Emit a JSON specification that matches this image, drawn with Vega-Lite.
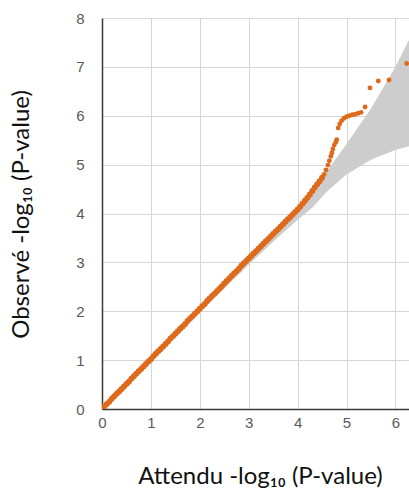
{
  "$schema": "https://vega.github.io/schema/vega-lite/v6.json",
  "autosize": {"type": "none"},
  "padding": {"left": 102, "top": 18, "right": 0, "bottom": 82},
  "width": 307,
  "height": 391,
  "background": "white",
  "config": {
    "view": {"stroke": null},
    "axis": {
      "domainColor": "#3a3a3a",
      "domainWidth": 1.5,
      "gridColor": "#d6d6d6",
      "gridWidth": 1,
      "ticks": false,
      "tickSize": 0,
      "labelFlush": false,
      "labelFont": "Liberation Sans",
      "labelFontSize": 15,
      "labelColor": "#595959",
      "titleFont": "Lato",
      "titleFontSize": 24,
      "titleFontWeight": "normal",
      "titleColor": "#111111"
    }
  },
  "datasets": {
    "band": [
      {"x": 0, "lo": 0, "hi": 0},
      {"x": 2, "lo": 1.98, "hi": 2.03},
      {"x": 3, "lo": 2.95, "hi": 3.06},
      {"x": 3.5, "lo": 3.42, "hi": 3.58},
      {"x": 4, "lo": 3.87, "hi": 4.12},
      {"x": 4.3, "lo": 4.12, "hi": 4.45},
      {"x": 4.6, "lo": 4.45, "hi": 4.87},
      {"x": 5, "lo": 4.8, "hi": 5.42},
      {"x": 5.5, "lo": 5.1, "hi": 6.15},
      {"x": 6, "lo": 5.3, "hi": 7.0},
      {"x": 6.3, "lo": 5.38, "hi": 7.6}
    ],
    "line": [
      {"x": 0.00, "y": 0.00}, {"x": 0.05, "y": 0.05}, {"x": 0.10, "y": 0.10}, {"x": 0.15, "y": 0.15},
      {"x": 0.20, "y": 0.21}, {"x": 0.25, "y": 0.26}, {"x": 0.30, "y": 0.31}, {"x": 0.35, "y": 0.36},
      {"x": 0.40, "y": 0.41}, {"x": 0.45, "y": 0.46}, {"x": 0.50, "y": 0.51}, {"x": 0.55, "y": 0.56},
      {"x": 0.60, "y": 0.62}, {"x": 0.65, "y": 0.67}, {"x": 0.70, "y": 0.72}, {"x": 0.75, "y": 0.77},
      {"x": 0.80, "y": 0.82}, {"x": 0.85, "y": 0.87}, {"x": 0.90, "y": 0.92}, {"x": 0.95, "y": 0.97},
      {"x": 1.00, "y": 1.02}, {"x": 1.05, "y": 1.08}, {"x": 1.10, "y": 1.13}, {"x": 1.15, "y": 1.18},
      {"x": 1.20, "y": 1.23}, {"x": 1.25, "y": 1.28}, {"x": 1.30, "y": 1.33}, {"x": 1.35, "y": 1.38},
      {"x": 1.40, "y": 1.44}, {"x": 1.45, "y": 1.49}, {"x": 1.50, "y": 1.54}, {"x": 1.55, "y": 1.59},
      {"x": 1.60, "y": 1.64}, {"x": 1.65, "y": 1.69}, {"x": 1.70, "y": 1.74}, {"x": 1.75, "y": 1.80},
      {"x": 1.80, "y": 1.85}, {"x": 1.85, "y": 1.90}, {"x": 1.90, "y": 1.95}, {"x": 1.95, "y": 2.00},
      {"x": 2.00, "y": 2.05}, {"x": 2.05, "y": 2.10}, {"x": 2.10, "y": 2.15}, {"x": 2.15, "y": 2.21},
      {"x": 2.20, "y": 2.26}, {"x": 2.25, "y": 2.31}, {"x": 2.30, "y": 2.36}, {"x": 2.35, "y": 2.41},
      {"x": 2.40, "y": 2.46}, {"x": 2.45, "y": 2.51}, {"x": 2.50, "y": 2.57}, {"x": 2.55, "y": 2.62},
      {"x": 2.60, "y": 2.67}, {"x": 2.65, "y": 2.72}, {"x": 2.70, "y": 2.77}, {"x": 2.75, "y": 2.82},
      {"x": 2.80, "y": 2.87}, {"x": 2.85, "y": 2.93}, {"x": 2.90, "y": 2.98}, {"x": 2.95, "y": 3.03},
      {"x": 3.00, "y": 3.08}, {"x": 3.05, "y": 3.13}, {"x": 3.10, "y": 3.18}, {"x": 3.15, "y": 3.23},
      {"x": 3.20, "y": 3.28}, {"x": 3.25, "y": 3.33}, {"x": 3.30, "y": 3.38}, {"x": 3.35, "y": 3.43},
      {"x": 3.40, "y": 3.48}, {"x": 3.45, "y": 3.53}, {"x": 3.50, "y": 3.58}, {"x": 3.55, "y": 3.63},
      {"x": 3.60, "y": 3.68}, {"x": 3.65, "y": 3.73}, {"x": 3.70, "y": 3.78}, {"x": 3.75, "y": 3.83},
      {"x": 3.80, "y": 3.88}, {"x": 3.85, "y": 3.93}, {"x": 3.90, "y": 3.98}, {"x": 3.95, "y": 4.03},
      {"x": 4.00, "y": 4.08}, {"x": 4.05, "y": 4.14}, {"x": 4.10, "y": 4.20}, {"x": 4.15, "y": 4.26},
      {"x": 4.20, "y": 4.32}, {"x": 4.25, "y": 4.39}, {"x": 4.30, "y": 4.46}, {"x": 4.35, "y": 4.53},
      {"x": 4.40, "y": 4.60}, {"x": 4.45, "y": 4.66}, {"x": 4.50, "y": 4.73}
    ],
    "tail": [
      {"x": 4.54, "y": 4.80},
      {"x": 4.58, "y": 4.89}, {"x": 4.62, "y": 4.99}, {"x": 4.65, "y": 5.08}, {"x": 4.68, "y": 5.17},
      {"x": 4.70, "y": 5.24}, {"x": 4.72, "y": 5.32}, {"x": 4.75, "y": 5.40}, {"x": 4.78, "y": 5.46},
      {"x": 4.80, "y": 5.51},
      {"x": 4.83, "y": 5.75}, {"x": 4.86, "y": 5.83}, {"x": 4.90, "y": 5.90}, {"x": 4.95, "y": 5.95},
      {"x": 5.00, "y": 5.98}, {"x": 5.06, "y": 6.00}, {"x": 5.12, "y": 6.02}, {"x": 5.18, "y": 6.03},
      {"x": 5.24, "y": 6.05}, {"x": 5.30, "y": 6.07}, {"x": 5.38, "y": 6.18}, {"x": 5.48, "y": 6.57},
      {"x": 5.65, "y": 6.71}, {"x": 5.87, "y": 6.73}, {"x": 6.23, "y": 7.07}
    ]
  },
  "layer": [
    {
      "data": {"name": "band"},
      "mark": {"type": "area", "color": "#cdcdcd", "opacity": 1, "clip": true},
      "encoding": {
        "x": {
          "field": "x", "type": "quantitative",
          "scale": {"domain": [0, 6.278], "nice": false, "zero": false},
          "axis": {
            "values": [0, 1, 2, 3, 4, 5, 6],
            "labelPadding": 6,
            "title": "Attendu -log₁₀ (P-value)",
            "titleX": 158,
            "titleY": 74,
            "titleAlign": "center",
            "titleBaseline": "alphabetic"
          }
        },
        "y": {
          "field": "lo", "type": "quantitative",
          "scale": {"domain": [0, 8], "nice": false},
          "axis": {
            "values": [0, 1, 2, 3, 4, 5, 6, 7, 8],
            "labelPadding": 18,
            "title": "Observé -log₁₀ (P-value)",
            "titleX": -74,
            "titleY": 196,
            "titleAlign": "center",
            "titleBaseline": "alphabetic"
          }
        },
        "y2": {"field": "hi"}
      }
    },
    {
      "data": {"name": "line"},
      "mark": {"type": "circle", "size": 36, "opacity": 1, "color": "#df6a1c", "clip": true},
      "encoding": {
        "x": {"field": "x", "type": "quantitative"},
        "y": {"field": "y", "type": "quantitative"}
      }
    },
    {
      "data": {"name": "tail"},
      "mark": {"type": "circle", "size": 24, "opacity": 1, "color": "#df6a1c", "clip": true},
      "encoding": {
        "x": {"field": "x", "type": "quantitative"},
        "y": {"field": "y", "type": "quantitative"}
      }
    }
  ]
}
